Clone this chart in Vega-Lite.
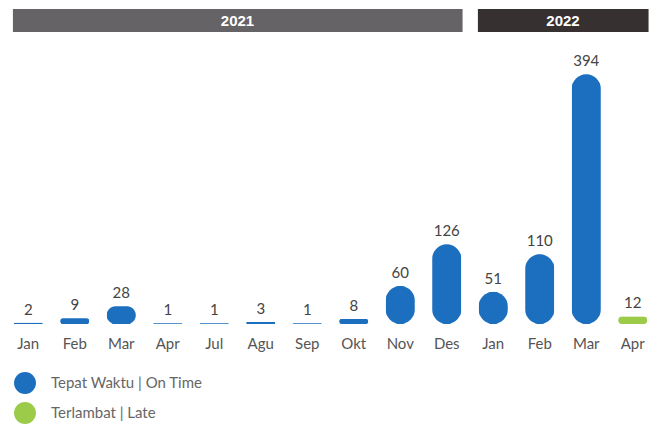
{
  "$schema": "https://vega.github.io/schema/vega-lite/v6.json",
  "padding": {"left": 5, "top": 9, "right": 0, "bottom": 0},
  "config": {"view": {"stroke": null}, "font": "Lato", "concat": {"spacing": 8}},
  "datasets": {
    "headers": [
      {"year": "2021", "start": "Jan 2021", "end": "Des 2021", "mid": "Agu 2021"},
      {"year": "2022", "start": "Jan 2022", "end": "Apr 2022", "mid": "Mar 2022"}
    ],
    "bars": [
      {"id": "Jan 2021", "value": 2, "status": "Tepat Waktu | On Time"},
      {"id": "Feb 2021", "value": 9, "status": "Tepat Waktu | On Time"},
      {"id": "Mar 2021", "value": 28, "status": "Tepat Waktu | On Time"},
      {"id": "Apr 2021", "value": 1, "status": "Tepat Waktu | On Time"},
      {"id": "Jul 2021", "value": 1, "status": "Tepat Waktu | On Time"},
      {"id": "Agu 2021", "value": 3, "status": "Tepat Waktu | On Time"},
      {"id": "Sep 2021", "value": 1, "status": "Tepat Waktu | On Time"},
      {"id": "Okt 2021", "value": 8, "status": "Tepat Waktu | On Time"},
      {"id": "Nov 2021", "value": 60, "status": "Tepat Waktu | On Time"},
      {"id": "Des 2021", "value": 126, "status": "Tepat Waktu | On Time"},
      {"id": "Jan 2022", "value": 51, "status": "Tepat Waktu | On Time"},
      {"id": "Feb 2022", "value": 110, "status": "Tepat Waktu | On Time"},
      {"id": "Mar 2022", "value": 394, "status": "Tepat Waktu | On Time"},
      {"id": "Apr 2022", "value": 12, "status": "Terlambat | Late"}
    ]
  },
  "resolve": {"scale": {"x": "shared", "color": "independent"}},
  "vconcat": [
    {
      "width": 651,
      "height": 23,
      "data": {"name": "headers"},
      "layer": [
        {
          "mark": {"type": "rect"},
          "encoding": {
            "x": {"field": "start", "type": "nominal", "bandPosition": 0.17, "axis": null,
              "scale": {"domain": ["Jan 2021","Feb 2021","Mar 2021","Apr 2021","Jul 2021","Agu 2021","Sep 2021","Okt 2021","Nov 2021","Des 2021","Jan 2022","Feb 2022","Mar 2022","Apr 2022"], "paddingInner": 0, "paddingOuter": 0}},
            "x2": {"field": "end", "bandPosition": 0.84},
            "color": {"field": "year", "type": "nominal", "legend": null,
              "scale": {"domain": ["2021", "2022"], "range": ["#656366", "#363130"]}}
          }
        },
        {
          "mark": {"type": "text", "font": "Liberation Sans", "fontWeight": "bold", "fontSize": 15, "color": "#ffffff", "baseline": "middle"},
          "encoding": {
            "x": {"field": "mid", "type": "nominal", "bandPosition": 0, "axis": null,
              "scale": {"domain": ["Jan 2021","Feb 2021","Mar 2021","Apr 2021","Jul 2021","Agu 2021","Sep 2021","Okt 2021","Nov 2021","Des 2021","Jan 2022","Feb 2022","Mar 2022","Apr 2022"], "paddingInner": 0, "paddingOuter": 0}},
            "text": {"field": "year"}
          }
        }
      ]
    },
    {
      "width": 651,
      "height": 284,
      "data": {"name": "bars"},
      "encoding": {
        "x": {"field": "id", "type": "nominal", "sort": null,
          "scale": {"domain": ["Jan 2021","Feb 2021","Mar 2021","Apr 2021","Jul 2021","Agu 2021","Sep 2021","Okt 2021","Nov 2021","Des 2021","Jan 2022","Feb 2022","Mar 2022","Apr 2022"], "paddingInner": 0, "paddingOuter": 0},
          "axis": {"title": null, "labelExpr": "split(datum.label, ' ')[0]", "labelAngle": 0, "ticks": false, "domain": false, "grid": false, "labelPadding": 12, "labelFontSize": 15, "labelColor": "#555555", "labelFont": "Lato"}},
        "y": {"field": "value", "type": "quantitative", "scale": {"domain": [0, 448], "nice": false}, "axis": null}
      },
      "layer": [
        {
          "mark": {"type": "bar", "width": 29, "cornerRadius": {"expr": "datum.value < 4 ? 1 : 14.5"}, "strokeWidth": 2},
          "encoding": {
            "color": {"field": "status", "type": "nominal",
              "scale": {"domain": ["Tepat Waktu | On Time", "Terlambat | Late"], "range": ["#1c6fbe", "#9ccb4a"]},
              "legend": {"orient": "none", "legendX": 9, "legendY": 332, "title": null, "symbolType": "circle", "symbolSize": 480, "symbolStrokeWidth": 0, "labelFontSize": 15, "labelColor": "#666666", "labelFont": "Lato", "rowPadding": 8, "labelOffset": 15, "padding": 0}},
            "stroke": {"field": "status", "type": "nominal",
              "scale": {"domain": ["Tepat Waktu | On Time", "Terlambat | Late"], "range": ["#1c6fbe", "#9ccb4a"]},
              "legend": null}
          }
        },
        {
          "mark": {"type": "text", "dy": -8, "baseline": "alphabetic", "fontSize": 15, "color": "#444444", "font": "Lato"},
          "encoding": {"text": {"field": "value", "type": "quantitative"}}
        }
      ]
    }
  ]
}
